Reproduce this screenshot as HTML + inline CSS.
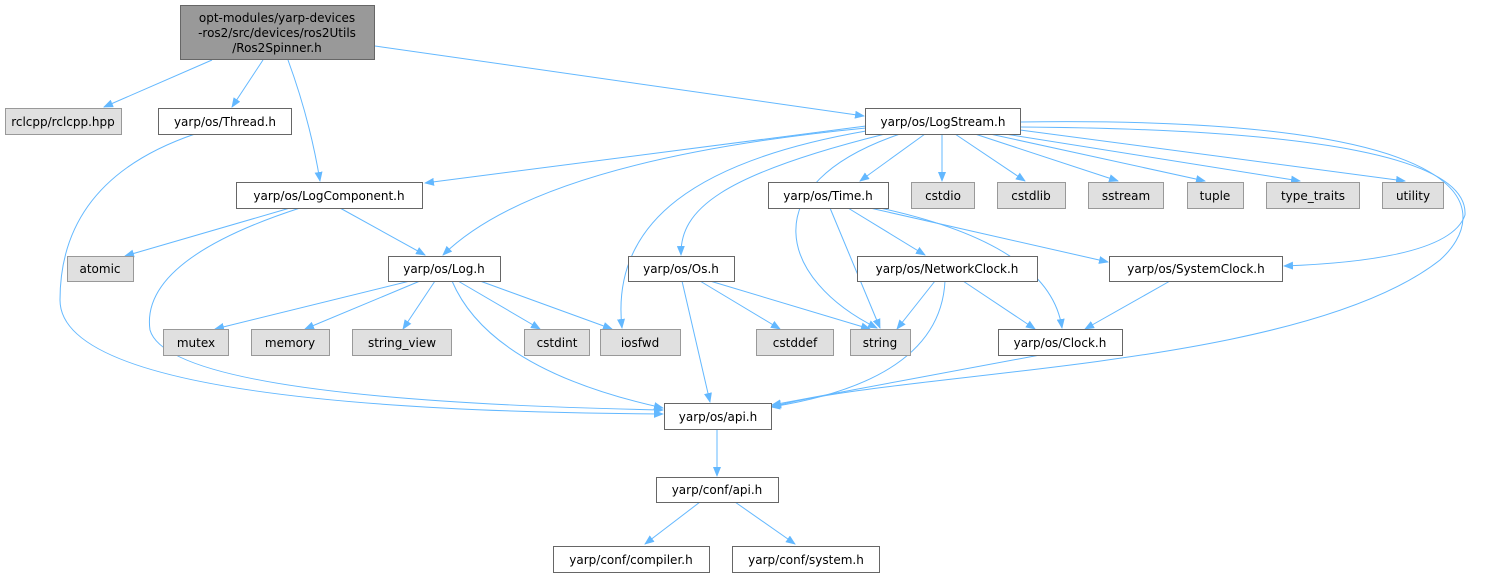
<!DOCTYPE html>
<html><head><meta charset="utf-8"><style>
html,body{margin:0;padding:0;background:#fff;width:1490px;height:579px;overflow:hidden}
svg text{font-family:"DejaVu Sans","Liberation Sans",sans-serif;font-size:12px;fill:#000}
</style></head><body>
<svg width="1490" height="579" viewBox="0 0 1490 579" xmlns="http://www.w3.org/2000/svg">
<defs><marker id="a" markerWidth="10" markerHeight="8" refX="9" refY="4" orient="auto" markerUnits="userSpaceOnUse"><path d="M0,0 L10,4 L0,8 z" fill="#63b8ff"/></marker></defs>
<g fill="none" stroke="#63b8ff" stroke-width="1" marker-end="url(#a)">
<path d="M212,60 L104,107"/>
<path d="M263,60 L232,107"/>
<path d="M288,60 Q310,120 320,181"/>
<path d="M375,46 L864,116"/>
<path d="M195,134 Q60,180 60,300 Q60,410 663,414"/>
<path d="M866,126 L425,183"/>
<path d="M866,128 Q540,160 443,255"/>
<path d="M866,131 C700,160 610,220 622,328"/>
<path d="M885,134 C720,175 680,210 681,255"/>
<path d="M900,134 C750,185 780,280 877,328"/>
<path d="M925,134 L860,181"/>
<path d="M942,134 L942,181"/>
<path d="M955,134 L1025,181"/>
<path d="M975,134 L1118,181"/>
<path d="M990,134 L1205,181"/>
<path d="M1005,134 L1300,181"/>
<path d="M1020,130 L1405,181"/>
<path d="M1020,127 Q1470,130 1465,215 Q1450,260 1284,266"/>
<path d="M1020,122 C1500,115 1490,215 1440,260 C1300,370 900,370 772,407"/>
<path d="M290,208 L125,256"/>
<path d="M340,208 L425,255"/>
<path d="M300,208 Q140,260 150,330 Q170,400 663,410"/>
<path d="M410,281 L215,329"/>
<path d="M420,281 L305,329"/>
<path d="M435,281 L403,329"/>
<path d="M458,281 L540,329"/>
<path d="M480,281 L612,329"/>
<path d="M452,281 Q490,370 663,408"/>
<path d="M830,208 L880,328"/>
<path d="M848,208 L925,255"/>
<path d="M870,208 L1108,262"/>
<path d="M880,208 Q1050,245 1062,328"/>
<path d="M682,281 L710,402"/>
<path d="M700,281 L780,329"/>
<path d="M710,281 L870,329"/>
<path d="M935,281 L897,329"/>
<path d="M963,281 L1035,329"/>
<path d="M945,281 Q940,380 771,407"/>
<path d="M1170,281 L1085,329"/>
<path d="M1040,355 L772,405"/>
<path d="M717,429 L717,476"/>
<path d="M700,502 L645,544"/>
<path d="M735,502 L795,544"/>
</g>
<g stroke-width="1">
<rect x="180.5" y="5.5" width="194" height="54" fill="#999" stroke="#666"/>
<rect x="5.5" y="108.5" width="116" height="26" fill="#e0e0e0" stroke="#999"/>
<rect x="158.5" y="108.5" width="133" height="26" fill="#fff" stroke="#666"/>
<rect x="865.5" y="108.5" width="155" height="26" fill="#fff" stroke="#666"/>
<rect x="236.5" y="182.5" width="186" height="26" fill="#fff" stroke="#666"/>
<rect x="67.5" y="256.5" width="66" height="25" fill="#e0e0e0" stroke="#999"/>
<rect x="388.5" y="256.5" width="112" height="25" fill="#fff" stroke="#666"/>
<rect x="768.5" y="182.5" width="120" height="26" fill="#fff" stroke="#666"/>
<rect x="911.5" y="182.5" width="63" height="26" fill="#e0e0e0" stroke="#999"/>
<rect x="997.5" y="182.5" width="68" height="26" fill="#e0e0e0" stroke="#999"/>
<rect x="1088.5" y="182.5" width="75" height="26" fill="#e0e0e0" stroke="#999"/>
<rect x="1187.5" y="182.5" width="56" height="26" fill="#e0e0e0" stroke="#999"/>
<rect x="1266.5" y="182.5" width="93" height="26" fill="#e0e0e0" stroke="#999"/>
<rect x="1382.5" y="182.5" width="61" height="26" fill="#e0e0e0" stroke="#999"/>
<rect x="628.5" y="256.5" width="106" height="25" fill="#fff" stroke="#666"/>
<rect x="857.5" y="256.5" width="180" height="25" fill="#fff" stroke="#666"/>
<rect x="1109.5" y="256.5" width="173" height="25" fill="#fff" stroke="#666"/>
<rect x="163.5" y="329.5" width="65" height="26" fill="#e0e0e0" stroke="#999"/>
<rect x="251.5" y="329.5" width="78" height="26" fill="#e0e0e0" stroke="#999"/>
<rect x="352.5" y="329.5" width="99" height="26" fill="#e0e0e0" stroke="#999"/>
<rect x="524.5" y="329.5" width="65" height="26" fill="#e0e0e0" stroke="#999"/>
<rect x="600.5" y="329.5" width="80" height="26" fill="#e0e0e0" stroke="#999"/>
<rect x="756.5" y="329.5" width="77" height="26" fill="#e0e0e0" stroke="#999"/>
<rect x="850.5" y="329.5" width="60" height="26" fill="#e0e0e0" stroke="#999"/>
<rect x="998.5" y="329.5" width="124" height="26" fill="#fff" stroke="#666"/>
<rect x="664.5" y="403.5" width="107" height="26" fill="#fff" stroke="#666"/>
<rect x="656.5" y="477.5" width="122" height="25" fill="#fff" stroke="#666"/>
<rect x="553.5" y="546.5" width="156" height="26" fill="#fff" stroke="#666"/>
<rect x="732.5" y="546.5" width="147" height="26" fill="#fff" stroke="#666"/>
</g>
<g text-anchor="middle">
<text x="277" y="22">opt-modules/yarp-devices</text>
<text x="277" y="37">-ros2/src/devices/ros2Utils</text>
<text x="277" y="52">/Ros2Spinner.h</text>
<text x="63" y="126">rclcpp/rclcpp.hpp</text>
<text x="225" y="126">yarp/os/Thread.h</text>
<text x="943" y="126">yarp/os/LogStream.h</text>
<text x="329" y="200">yarp/os/LogComponent.h</text>
<text x="100" y="273">atomic</text>
<text x="444" y="273">yarp/os/Log.h</text>
<text x="828" y="200">yarp/os/Time.h</text>
<text x="943" y="200">cstdio</text>
<text x="1031" y="200">cstdlib</text>
<text x="1126" y="200">sstream</text>
<text x="1215" y="200">tuple</text>
<text x="1313" y="200">type_traits</text>
<text x="1413" y="200">utility</text>
<text x="681" y="273">yarp/os/Os.h</text>
<text x="947" y="273">yarp/os/NetworkClock.h</text>
<text x="1196" y="273">yarp/os/SystemClock.h</text>
<text x="196" y="347">mutex</text>
<text x="290" y="347">memory</text>
<text x="402" y="347">string_view</text>
<text x="557" y="347">cstdint</text>
<text x="640" y="347">iosfwd</text>
<text x="795" y="347">cstddef</text>
<text x="880" y="347">string</text>
<text x="1060" y="347">yarp/os/Clock.h</text>
<text x="718" y="421">yarp/os/api.h</text>
<text x="717" y="494">yarp/conf/api.h</text>
<text x="631" y="564">yarp/conf/compiler.h</text>
<text x="806" y="564">yarp/conf/system.h</text>
</g>
</svg>
</body></html>
